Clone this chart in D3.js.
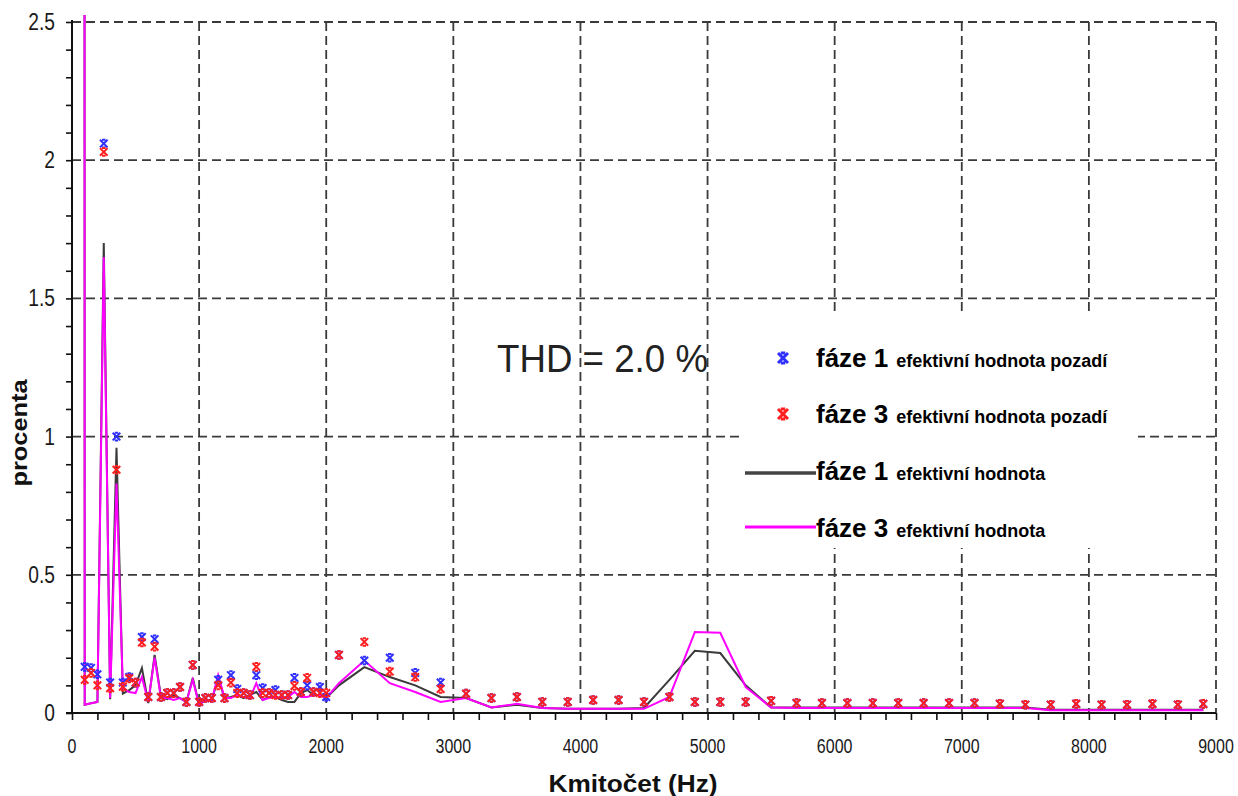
<!DOCTYPE html>
<html>
<head>
<meta charset="utf-8">
<script src="https://cdn.jsdelivr.net/npm/d3@7"></script>
<style>
  html, body { margin: 0; padding: 0; background: #fff; }
  svg { display: block; font-family: "Liberation Sans", Arial, sans-serif; }
</style>
</head>
<body>
<svg id="chart" width="1238" height="796"></svg>
<script>
// ---------------- DATA ----------------
const markerFreq = [100,150,200,250,300,350,400,450,500,550,600,650,700,750,800,850,900,950,1000,
  1050,1100,1150,1200,1250,1300,1350,1400,1450,1500,1550,1600,1650,1700,1750,1800,1850,1900,1950,2000,
  2100,2300,2500,2700,2900,3100,3300,3500,3700,3900,4100,4300,4500,4700,4900,5100,5300,5500,5700,5900,
  6100,6300,6500,6700,6900,7100,7300,7500,7700,7900,8100,8300,8500,8700,8900];

const phase1Background = [0.167,0.163,0.14,2.06,0.11,1.0,0.11,0.13,0.11,0.275,0.058,0.267,0.058,0.072,0.072,0.094,0.04,0.174,0.04,
  0.054,0.054,0.12,0.054,0.137,0.087,0.072,0.065,0.137,0.09,0.072,0.083,0.065,0.065,0.127,0.076,0.1,0.076,0.094,0.058,
  0.21,0.19,0.2,0.145,0.11,0.07,0.054,0.058,0.04,0.04,0.047,0.047,0.04,0.058,0.04,0.04,0.04,0.044,0.036,0.036,
  0.036,0.036,0.036,0.036,0.036,0.036,0.033,0.03,0.03,0.033,0.03,0.03,0.033,0.03,0.033];

const phase3Background = [0.12,0.145,0.1,2.03,0.09,0.88,0.095,0.125,0.11,0.255,0.058,0.24,0.058,0.072,0.072,0.094,0.04,0.174,0.04,
  0.054,0.054,0.1,0.054,0.11,0.072,0.072,0.065,0.167,0.072,0.072,0.065,0.065,0.065,0.098,0.076,0.127,0.076,0.072,0.072,
  0.21,0.257,0.15,0.13,0.087,0.07,0.054,0.058,0.04,0.04,0.047,0.047,0.04,0.058,0.04,0.04,0.04,0.044,0.036,0.036,
  0.036,0.036,0.036,0.036,0.036,0.036,0.033,0.03,0.03,0.033,0.03,0.03,0.033,0.03,0.033];

const lineFreq = [50,100,150,200,250,300,350,400,450,500,550,600,650,700,750,800,850,900,950,1000,
  1050,1100,1150,1200,1250,1300,1350,1400,1450,1500,1550,1600,1650,1700,1750,1800,1850,1900,1950,2000,
  2100,2300,2500,2700,2900,3100,3300,3500,3700,3900,4100,4300,4500,4700,4900,5100,5300,5500,5700,5900,
  6100,6300,6500,6700,6900,7100,7300,7500,7700,7900,8100,8300,8500,8700,8900];

const phase1Rms = [100,0.03,0.035,0.04,1.70,0.05,0.96,0.07,0.083,0.1,0.163,0.036,0.21,0.058,0.05,0.065,0.054,0.04,0.127,0.03,
  0.047,0.047,0.127,0.054,0.058,0.065,0.054,0.065,0.076,0.047,0.058,0.058,0.047,0.04,0.04,0.072,0.083,0.065,0.065,0.054,
  0.1,0.166,0.13,0.1,0.058,0.054,0.02,0.03,0.018,0.015,0.015,0.015,0.018,0.12,0.225,0.217,0.1,0.02,0.02,0.02,
  0.02,0.02,0.02,0.02,0.02,0.02,0.02,0.02,0.012,0.012,0.012,0.012,0.012,0.012,0.012];

const phase3Rms = [100,0.03,0.035,0.04,1.65,0.054,0.83,0.09,0.076,0.072,0.13,0.04,0.2,0.054,0.054,0.047,0.054,0.04,0.12,0.03,
  0.047,0.047,0.137,0.054,0.054,0.065,0.058,0.054,0.108,0.047,0.054,0.058,0.054,0.058,0.076,0.058,0.058,0.065,0.065,0.054,
  0.108,0.19,0.108,0.076,0.04,0.054,0.02,0.033,0.018,0.015,0.015,0.015,0.015,0.058,0.293,0.29,0.094,0.02,0.018,0.018,
  0.018,0.018,0.018,0.018,0.018,0.018,0.018,0.018,0.01,0.01,0.01,0.01,0.01,0.01,0.01];

const xTickLabels = ["0","1000","2000","3000","4000","5000","6000","7000","8000","9000"];
const yTickLabels = ["0","0.5","1","1.5","2","2.5"];
const legendLabels = [
  {main: "fáze 1", sub: "efektivní hodnota pozadí"},
  {main: "fáze 3", sub: "efektivní hodnota pozadí"},
  {main: "fáze 1", sub: "efektivní hodnota"},
  {main: "fáze 3", sub: "efektivní hodnota"}
];
const thdText = "THD = 2.0 %";
const xTitle = "Kmitočet (Hz)";
const yTitle = "procenta";

// ---------------- CHART ----------------
const svg = d3.select("#chart");
const L = 72, R = 1216, T = 22, B = 713;
const x = d3.scaleLinear().domain([0, 9000]).range([L, R]);
const y = d3.scaleLinear().domain([0, 2.5]).range([B, T]);

const BLUE = "#2f2fff", RED = "#ff1f1f", MAG = "#ff00ff", BLK = "#3a3a3a";

function narrow(sel, f) {
  sel.each(function () {
    const len = this.getComputedTextLength();
    d3.select(this).attr("textLength", len * f).attr("lengthAdjust", "spacingAndGlyphs");
  });
}

// grid
const grid = svg.append("g").attr("stroke", "#3a3a3a").attr("stroke-width", 1.8)
  .attr("stroke-dasharray", "9,5").attr("fill", "none");
xTickLabels.map(Number).filter(v => v > 0).forEach(v => {
  grid.append("line").attr("x1", x(v)).attr("x2", x(v)).attr("y1", y(2.5)).attr("y2", y(0));
});
yTickLabels.map(Number).filter(v => v > 0).forEach(v => {
  grid.append("line").attr("x1", x(0)).attr("x2", x(9000)).attr("y1", y(v)).attr("y2", y(v));
});

// legend background
svg.append("rect").attr("x", 742).attr("y", 316).attr("width", 396).attr("height", 232).attr("fill", "#fff");

// axes
const xAxis = d3.axisBottom(x).tickValues(d3.range(0, 9001, 200)).tickSize(7).tickFormat("");
const gx = svg.append("g").attr("transform", `translate(0,${B})`).call(xAxis);
const yAxis = d3.axisLeft(y).tickValues(d3.range(0, 26).map(i => i / 10)).tickSize(6).tickFormat("");
const gy = svg.append("g").attr("transform", `translate(${L},0)`).call(yAxis);
[gx, gy].forEach(g => {
  g.selectAll("path").attr("stroke", "#111").attr("stroke-width", 2);
  g.selectAll("line").attr("stroke", "#111").attr("stroke-width", 1.6);
});
gy.select("path").attr("d", `M-6,${B}H0V${T - 2}`);
gx.select("path").attr("d", `M${L},0H${R}`);

// tick labels
svg.append("g").selectAll("text").data(xTickLabels).join("text")
  .attr("x", d => x(+d)).attr("y", 753)
  .attr("text-anchor", "middle").attr("font-size", 20).attr("fill", "#1a1a1a")
  .text(d => d).call(narrow, 0.8);
svg.append("g").selectAll("text").data(yTickLabels).join("text")
  .attr("x", 55).attr("y", d => y(+d) + 8)
  .attr("text-anchor", "end").attr("font-size", 24).attr("fill", "#1a1a1a")
  .text(d => d).call(narrow, 0.8);

// titles
svg.append("text").attr("x", 633).attr("y", 792).attr("text-anchor", "middle")
  .attr("font-size", 24).attr("font-weight", "bold").attr("fill", "#111")
  .attr("textLength", 169).attr("lengthAdjust", "spacingAndGlyphs").text(xTitle);
svg.append("text").attr("transform", "translate(27,433) rotate(-90)").attr("text-anchor", "middle")
  .attr("font-size", 22).attr("font-weight", "bold").attr("fill", "#111")
  .attr("textLength", 107).attr("lengthAdjust", "spacingAndGlyphs").text(yTitle);

// THD text
svg.append("text").attr("x", 497).attr("y", 372).attr("font-size", 38).attr("fill", "#222")
  .attr("textLength", 211).attr("lengthAdjust", "spacingAndGlyphs").text(thdText);

// clip
svg.append("clipPath").attr("id", "clip").append("rect")
  .attr("x", L).attr("y", 15).attr("width", R - L).attr("height", B - 15 + 2);

const plot = svg.append("g").attr("clip-path", "url(#clip)");
const line = d3.line().x(d => x(d[0])).y(d => y(d[1]));
plot.append("path").datum(lineFreq.map((f, i) => [f, phase1Rms[i]]))
  .attr("d", line).attr("fill", "none").attr("stroke", BLK).attr("stroke-width", 2);
plot.append("path").datum(lineFreq.map((f, i) => [f, phase3Rms[i]]))
  .attr("d", line).attr("fill", "none").attr("stroke", MAG).attr("stroke-width", 2);

function markerPath(s) {
  const c = s * 0.45;
  return `M${-s},${-s}L${s},${s}M${s},${-s}L${-s},${s}M${-c},${-s}H${c}M${-c},${s}H${c}`;
}
function drawMarkers(vals, color) {
  plot.append("g").selectAll("path").data(markerFreq.map((f, i) => [f, vals[i]])).join("path")
    .attr("transform", d => `translate(${x(d[0])},${y(d[1])})`)
    .attr("d", markerPath(3.8)).attr("fill", "none").attr("stroke", color).attr("stroke-width", 2);
}
drawMarkers(phase1Background, BLUE);
drawMarkers(phase3Background, RED);

// legend
const lg = svg.append("g");
const rowsY = [367, 423, 480, 537];
legendLabels.forEach((d, i) => {
  const t = lg.append("text").attr("x", 816).attr("y", rowsY[i]).attr("font-weight", "bold").attr("fill", "#000");
  t.append("tspan").attr("font-size", 26).text(d.main);
  t.append("tspan").attr("font-size", 18).attr("dx", 8).text(d.sub);
});
lg.append("path").attr("transform", `translate(783,${rowsY[0] - 9})`).attr("d", markerPath(5))
  .attr("fill", "none").attr("stroke", BLUE).attr("stroke-width", 3);
lg.append("path").attr("transform", `translate(783,${rowsY[1] - 9})`).attr("d", markerPath(5))
  .attr("fill", "none").attr("stroke", RED).attr("stroke-width", 3);
lg.append("line").attr("x1", 745).attr("x2", 816).attr("y1", rowsY[2] - 7).attr("y2", rowsY[2] - 7)
  .attr("stroke", "#444").attr("stroke-width", 3.5);
lg.append("line").attr("x1", 745).attr("x2", 816).attr("y1", rowsY[3] - 10).attr("y2", rowsY[3] - 10)
  .attr("stroke", MAG).attr("stroke-width", 3);
</script>
</body>
</html>
